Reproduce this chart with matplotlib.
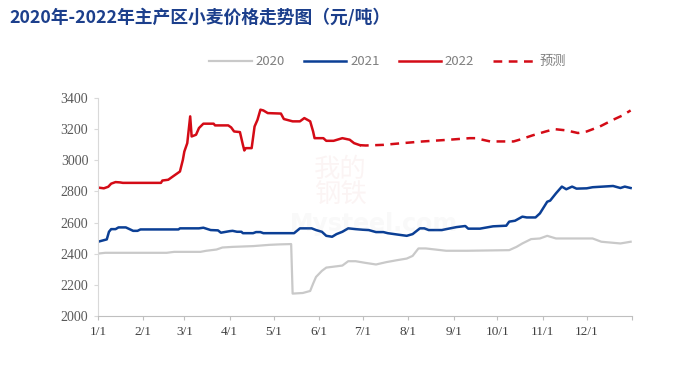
import numpy as np
import matplotlib.pyplot as plt

# day of year (0 = 1/1) and price
d20 = [0, 5, 47, 52, 70, 74, 81, 85, 92, 106, 117, 124, 132, 133, 140, 145, 147, 149, 153, 156,
       167, 171, 176, 183, 190, 197, 204, 211, 215, 219, 224, 238, 252, 281, 286, 290, 296, 302, 307, 313,
       338, 344, 357, 364]
v20 = [2401, 2406, 2406, 2412, 2412, 2419, 2427, 2440, 2444, 2449, 2457, 2460, 2462, 2144, 2148, 2161, 2208, 2251, 2290, 2311,
       2324, 2352, 2352, 2341, 2331, 2346, 2358, 2369, 2386, 2434, 2434, 2419, 2419, 2423, 2444, 2466, 2494, 2498, 2515, 2498,
       2498, 2477, 2466, 2477]

d21 = [0, 4, 6, 7.5, 9, 12, 14, 19, 22, 24, 27, 29, 55, 56, 69, 72, 75, 77, 82, 84,
       90, 92, 95, 98, 99, 106, 108, 111, 113, 134, 138, 146, 149, 153, 156, 160, 163, 167, 171, 176,
       181, 185, 190, 195, 198, 204, 211, 215, 220, 223, 226, 235, 238, 245, 251, 253, 261, 270, 279, 281,
       285, 290, 293, 299, 302, 307, 309, 313, 317, 320, 324, 327, 334, 338, 345, 352, 357, 360, 364]
v21 = [2477, 2487, 2492, 2541, 2558, 2558, 2569, 2569, 2556, 2547, 2547, 2556, 2556, 2563, 2563, 2567, 2558, 2552, 2550, 2535,
       2545, 2547, 2541, 2541, 2532, 2532, 2539, 2539, 2532, 2532, 2563, 2563, 2552, 2541, 2515, 2509, 2526, 2541, 2563, 2558,
       2554, 2552, 2539, 2539, 2532, 2524, 2515, 2526, 2563, 2563, 2552, 2552, 2558, 2571, 2578, 2561, 2561, 2576, 2580, 2606,
       2612, 2638, 2633, 2633, 2659, 2734, 2741, 2788, 2831, 2814, 2831, 2818, 2820, 2827, 2831, 2835, 2822, 2831, 2822]

d22 = [0, 4, 7, 9, 12, 15, 17, 43, 44, 48, 51, 56, 58, 59, 61, 63, 64, 67, 69, 72,
       79, 80, 89, 91, 93, 97, 99, 100, 101, 105, 107, 109, 111, 113, 116, 125, 127, 133, 138, 141,
       145, 147, 148, 154, 156, 161, 167, 172, 175, 179]
v22 = [2825, 2820, 2830, 2850, 2860, 2858, 2855, 2855, 2870, 2875, 2895, 2928, 3003, 3056, 3110, 3282, 3153, 3164, 3207, 3235,
       3235, 3224, 3224, 3211, 3185, 3181, 3100, 3063, 3078, 3078, 3217, 3260, 3325, 3320, 3303, 3300, 3265, 3250, 3250, 3271,
       3250, 3185, 3142, 3142, 3125, 3125, 3142, 3132, 3110, 3097]

dfc = [179, 183, 195, 208, 222, 240, 254, 258, 268, 284, 288, 297, 306, 312, 320, 328, 334, 343, 352, 358, 364]
vfc = [3097, 3095, 3099, 3110, 3121, 3132, 3142, 3142, 3121, 3121, 3132, 3160, 3185, 3200, 3192, 3175, 3185, 3217, 3260, 3286, 3320]

month_len = [0, 31, 28, 31, 30, 31, 30, 31, 31, 30, 31, 30, 31]
month_labels = ['%d/1' % m for m in range(1, 13)]

title = '2020年-2022年主产区小麦价格走势图（元/吨）'

fig = plt.figure(figsize=(7, 3.74), dpi=100)
ax = fig.add_axes([0.140, 0.155, 0.763, 0.583])

ax.plot(d20, v20, color='#c9c9c9', lw=1.6, label='2020')
ax.plot(d21, v21, color='#0b3f95', lw=1.8, label='2021')
ax.plot(d22, v22, color='#d40b16', lw=1.8, label='2022')
ax.plot(dfc, vfc, color='#d40b16', lw=1.8, dashes=(3.5, 2.6), label='预测')

ticks = np.cumsum(month_len)
ax.set_xlim(0, 365)
ax.set_xticks(ticks)
ax.set_xticklabels(month_labels + [''], family='Liberation Serif', fontsize=9.5, color='#404040')
ax.set_ylim(2000, 3400)
ax.set_yticks(np.arange(2000, 3401, 200))
ax.set_yticklabels([str(v) for v in range(2000, 3401, 200)], family='Liberation Serif', fontsize=10, color='#595959')
ax.tick_params(axis='x', direction='out', length=3, color='#bfbfbf', pad=4)
ax.tick_params(axis='y', direction='out', length=3, color='#d9d9d9', pad=4)

for s in ['top', 'right']:
    ax.spines[s].set_visible(False)
ax.spines['left'].set_color('#d9d9d9')
ax.spines['bottom'].set_color('#bfbfbf')

# faint watermark
ax.text(0.405, 0.615, '我的\n钢铁', transform=ax.transAxes, fontsize=19, family='Noto Sans CJK SC',
        color='#c0392b', alpha=0.05, linespacing=0.95, va='center')
ax.text(0.36, 0.42, 'Mysteel.com', transform=ax.transAxes, fontsize=17, fontweight='bold',
        color='#999999', alpha=0.06, va='center')

leg = fig.legend(loc='center', bbox_to_anchor=(0.554, 0.835), ncol=4, frameon=False,
                 handlelength=3.2, handletextpad=0.3, columnspacing=1.45,
                 prop={'family': ['Noto Sans CJK SC', 'DejaVu Sans'], 'size': 9.5})
for t in leg.get_texts():
    t.set_color('#7f7f7f')

fig.text(0.014, 0.952, title, fontsize=12.8, fontweight='bold', color='#1c3f8c',
         family=['Noto Sans CJK SC', 'DejaVu Sans'], va='center', ha='left')

fig.savefig('out.png', dpi=100)
